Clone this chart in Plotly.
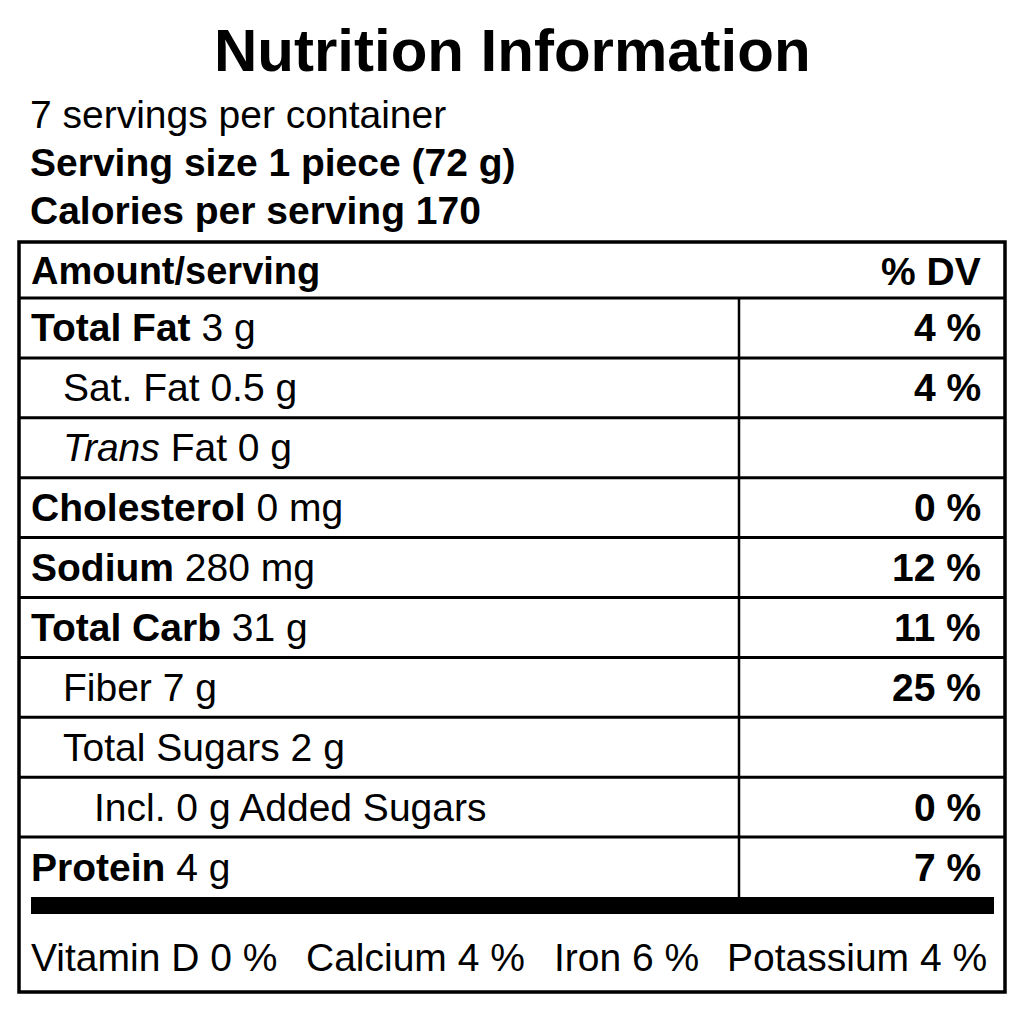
import plotly.graph_objects as go

# ---- data ----
title = "Nutrition Information"
servings_line = "7 servings per container"
serving_size = "Serving size 1 piece (72 g)"
calories = "Calories per serving 170"

nutrients = ["Total Fat", "Sat. Fat", "Trans", "Cholesterol", "Sodium",
             "Total Carb", "Fiber", "Total Sugars", "Incl. 0 g Added Sugars", "Protein"]
amounts = ["3 g", "0.5 g", "Fat 0 g", "0 mg", "280 mg", "31 g", "7 g", "2 g", "", "4 g"]
daily_values = ["4 %", "4 %", "", "0 %", "12 %", "11 %", "25 %", "", "0 %", "7 %"]
indent_level = [0, 1, 1, 0, 0, 0, 1, 1, 2, 0]
bold_name = [True, False, False, True, True, True, False, False, False, True]
italic_name = [False, False, True, False, False, False, False, False, False, False]

vitamins = ["Vitamin D", "Calcium", "Iron", "Potassium"]
vitamin_dv = ["0 %", "4 %", "6 %", "4 %"]

# ---- layout constants (page pixel coordinates) ----
FONT = "Liberation Sans, Arial, sans-serif"
OFF = 8  # browser body margin
W = H = 1024 - OFF
box_l, box_r, box_t, box_b = 19, 1005, 242, 992
header_line = 298
row_h = 59.9
col_x = 739
bar_top, bar_bot = 897, 914
text_size = 39

fig = go.Figure()
shapes = []
ann = []

def text(x, y, s, size=text_size, anchor="left"):
    ann.append(dict(x=x, y=y, xref="x", yref="y", text=s, showarrow=False,
                    xanchor=anchor, yanchor="middle",
                    font=dict(family=FONT, size=size, color="black")))

text(512, 50, "<b>" + title + "</b>", size=60, anchor="center")
text(28, 114, servings_line, size=39)
text(28, 162, "<b>" + serving_size + "</b>", size=39)
text(28, 210, "<b>" + calories + "</b>", size=39)

# box
shapes.append(dict(type="rect", x0=box_l, x1=box_r, y0=box_t, y1=box_b,
                   line=dict(color="black", width=3.5), xref="x", yref="y"))
text(29, 271, "<b>Amount/serving</b>", size=38)
text(983, 271, "<b>% DV</b>", anchor="right")
shapes.append(dict(type="line", x0=box_l, x1=box_r, y0=header_line, y1=header_line,
                   line=dict(color="black", width=3), xref="x", yref="y"))

n = len(nutrients)
for i in range(n):
    top = header_line + i * row_h
    cy = top + row_h / 2
    if i > 0:
        shapes.append(dict(type="line", x0=box_l, x1=box_r, y0=top, y1=top,
                           line=dict(color="black", width=3), xref="x", yref="y"))
    name = nutrients[i]
    if bold_name[i]:
        name = "<b>" + name + "</b>"
    if italic_name[i]:
        name = "<i>" + name + "</i>"
    s = name + (" " + amounts[i] if amounts[i] else "")
    text(29 + 31.5 * indent_level[i], cy, s)
    if daily_values[i]:
        text(983, cy, "<b>" + daily_values[i] + "</b>", anchor="right")

shapes.append(dict(type="line", x0=col_x, x1=col_x, y0=header_line, y1=bar_top,
                   line=dict(color="black", width=2.5), xref="x", yref="y"))
shapes.append(dict(type="rect", x0=31, x1=994, y0=bar_top, y1=bar_bot,
                   fillcolor="black", line=dict(width=0), xref="x", yref="y"))

vit_x = [29, 304, 552, 725]
for name, v, x in zip(vitamins, vitamin_dv, vit_x):
    text(x, 957, name + " " + v, size=39)

fig.update_layout(width=W, height=H, margin=dict(l=0, r=0, t=0, b=0),
                  paper_bgcolor="white", plot_bgcolor="white",
                  shapes=shapes, annotations=ann, showlegend=False,
                  xaxis=dict(range=[OFF, 1024], visible=False, fixedrange=True),
                  yaxis=dict(range=[1024, OFF], visible=False, fixedrange=True))
fig.write_html("out.html")
